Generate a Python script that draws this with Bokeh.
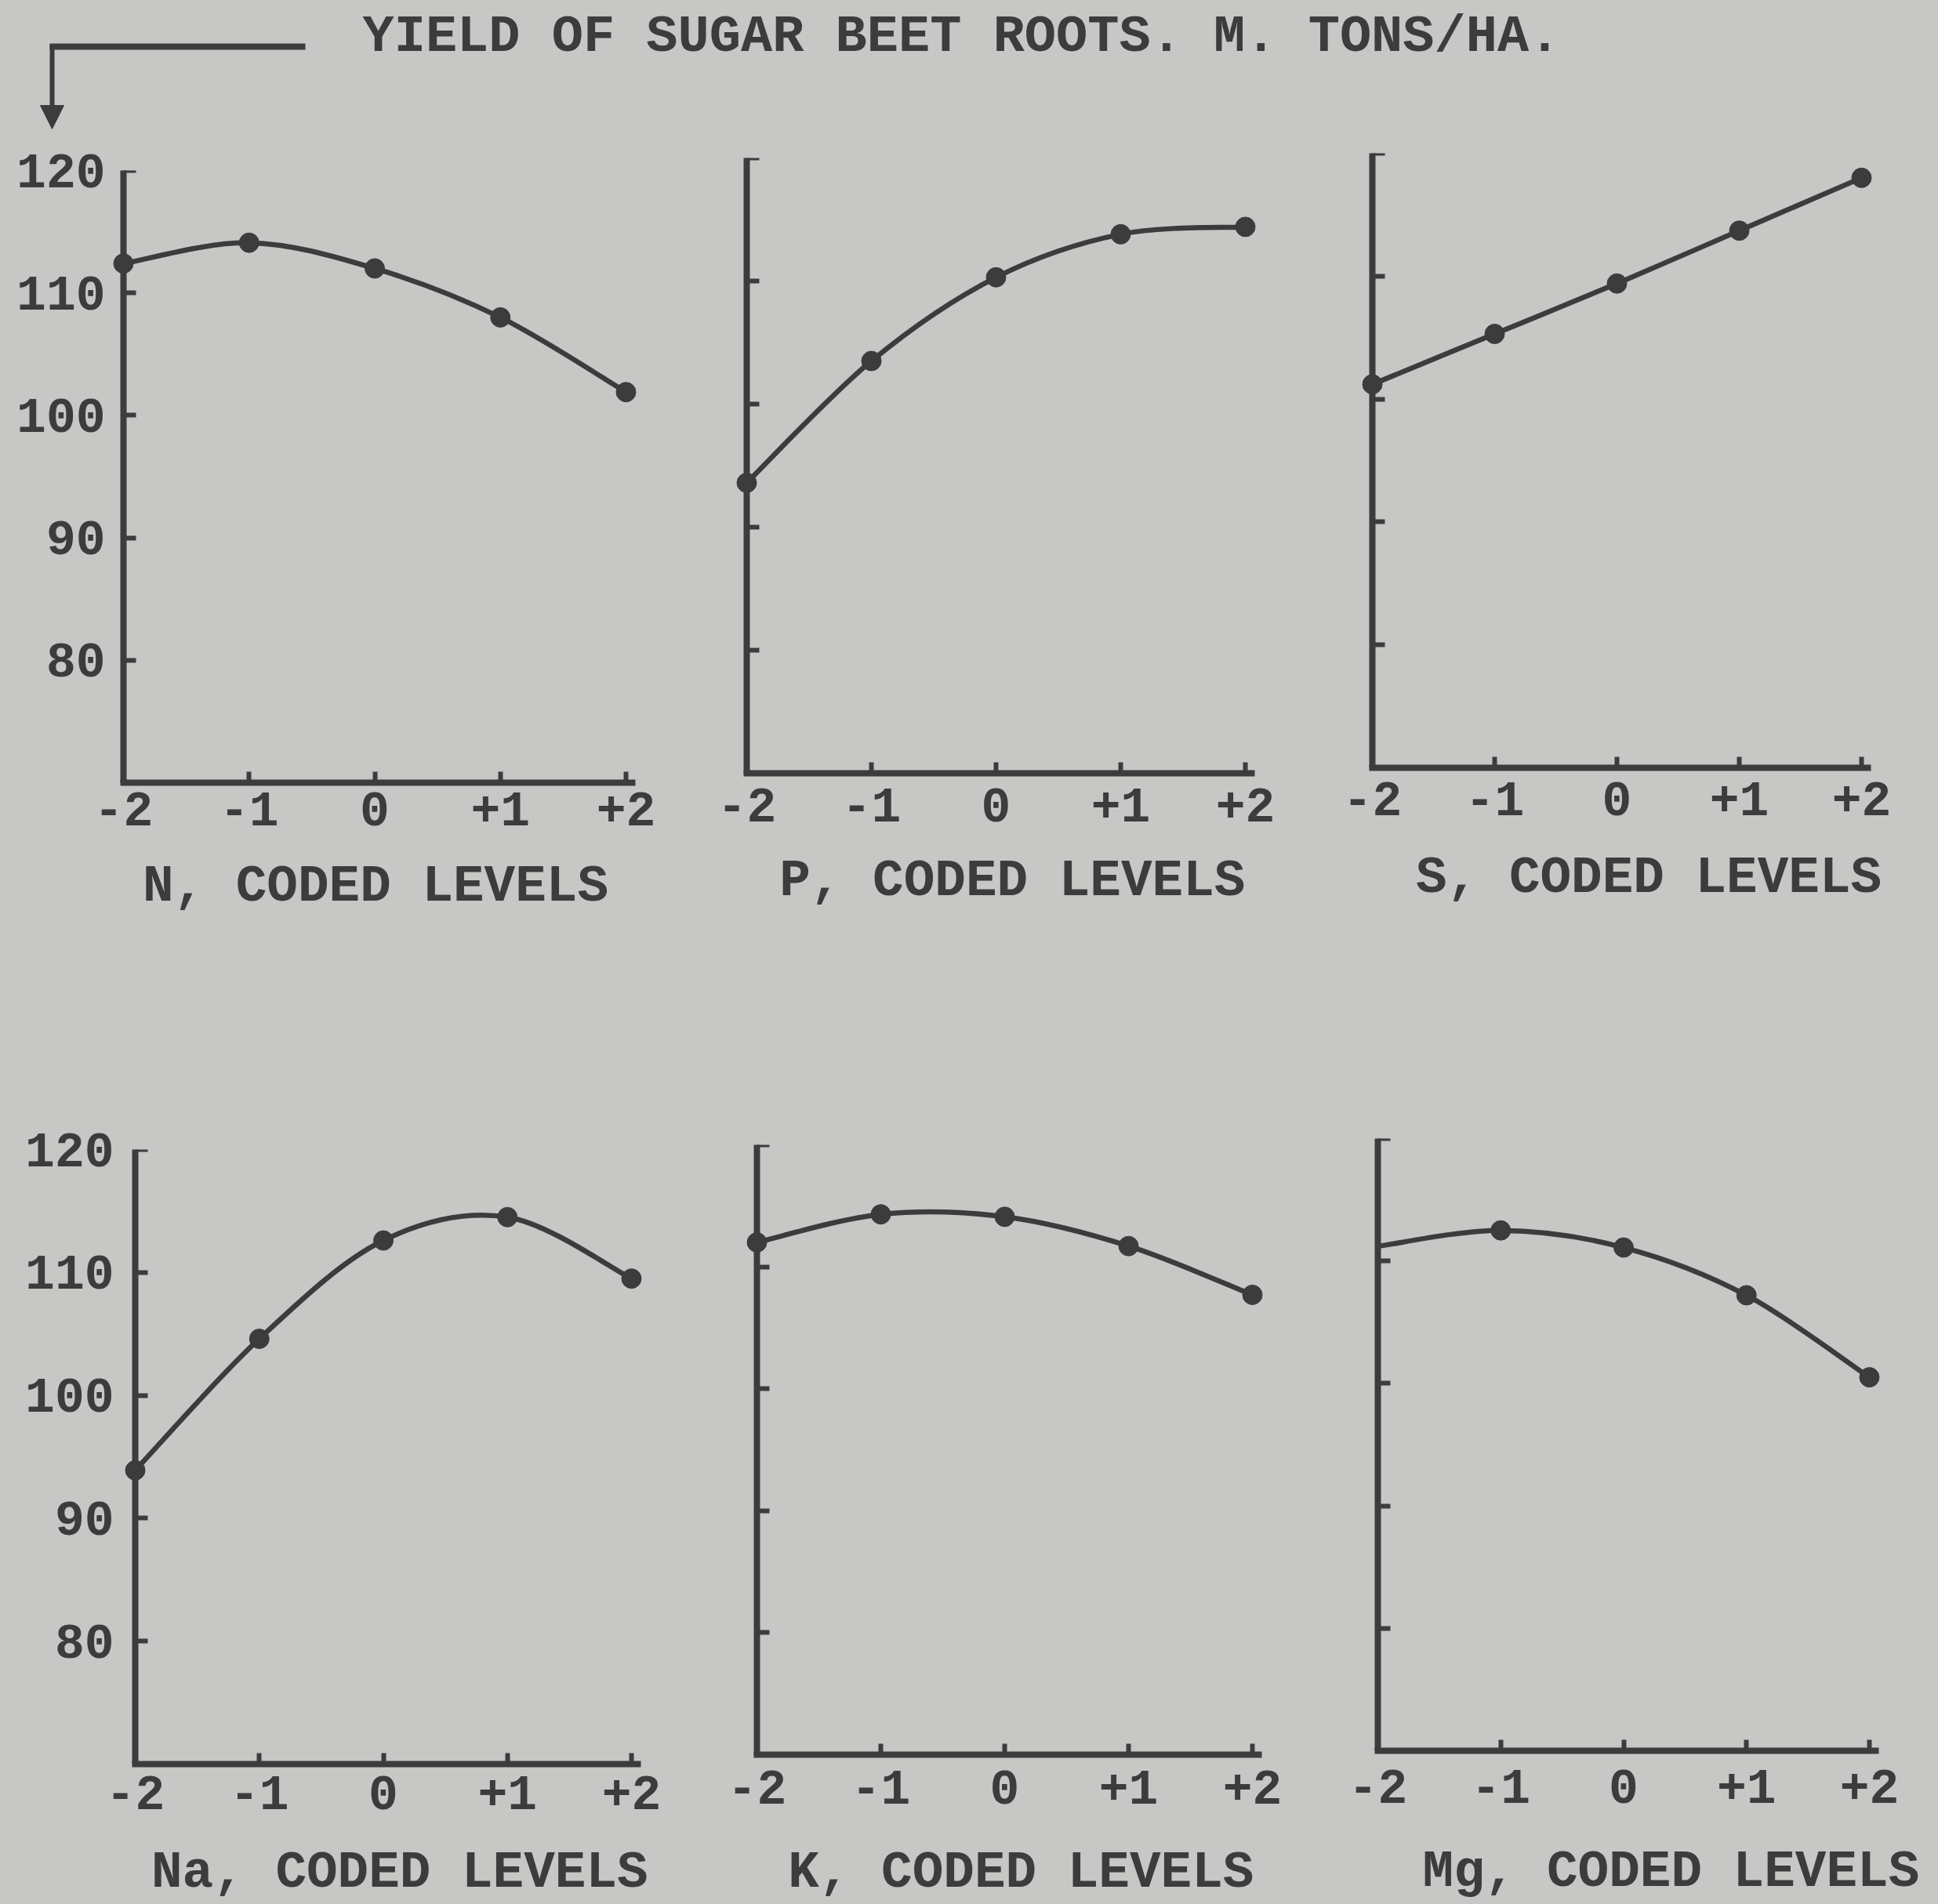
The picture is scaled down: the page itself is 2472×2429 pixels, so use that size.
import numpy as np
from bokeh.plotting import figure
from bokeh.models import Range1d, FixedTicker, Arrow, NormalHead, LinearAxis
from bokeh.layouts import column, row
from bokeh.embed import file_html
from bokeh.resources import INLINE
from bokeh.core.properties import value

# ---------------- data ----------------
TITLE = "YIELD OF SUGAR BEET ROOTS. M. TONS/HA."
LEVELS = [-2, -1, 0, 1, 2]
LEVEL_LABELS = ["-2", "-1", "0", "+1", "+2"]
Y_TICKS = [80, 90, 100, 110, 120]
Y_TICK_LABELS = ["80", "90", "100", "110", "120"]

N_YIELD = [112.4, 114.1, 112.0, 108.0, 101.9]
P_YIELD = [93.6, 103.5, 110.3, 113.8, 114.4]
S_YIELD = [101.2, 105.3, 109.4, 113.7, 118.0]
NA_YIELD = [93.9, 104.6, 112.6, 114.5, 109.5]
K_YIELD = [112.0, 114.3, 114.1, 111.7, 107.7]
MG_YIELD = [111.2, 112.5, 111.1, 107.2, 100.5]

N_LABEL = "N, CODED LEVELS"
P_LABEL = "P, CODED LEVELS"
S_LABEL = "S, CODED LEVELS"
NA_LABEL = "Na, CODED LEVELS"
K_LABEL = "K, CODED LEVELS"
MG_LABEL = "Mg, CODED LEVELS"

# ---------------- style ----------------
BG = "#c7c7c5"
INK = "#3c3c3c"
FONT = "Liberation Mono"
NBSP = "\u00a0"

PAGE_W = 2472
HEADER_H = 180
COLS = [(0, 880), (880, 790), (1670, 802)]
ROWS = [(180, 1120), (1300, 1129)]
PAD_L = 20   # frame room left of the y axis (px)
PAD_R = 22   # frame room right of the +2 level (px)
AXIS_EXT = 8  # x-axis line extension past +2 (px)


def smooth_segments(xs, ys):
    x = np.asarray(xs, float)
    y = np.asarray(ys, float)
    n = len(x)
    xp = np.concatenate([[x[0]], x, [x[-1]]])
    yp = np.concatenate([[y[0]], y, [y[-1]]])
    return dict(
        x0=x[:-1], y0=y[:-1], x1=x[1:], y1=y[1:],
        cx0=x[:-1] + (xp[2:n + 1] - xp[0:n - 1]) / 6.0,
        cy0=y[:-1] + (yp[2:n + 1] - yp[0:n - 1]) / 6.0,
        cx1=x[1:] - (xp[3:n + 2] - xp[1:n]) / 6.0,
        cy1=y[1:] - (yp[3:n + 2] - yp[1:n]) / 6.0,
    )


def style_labels(ax, size="63px"):
    ax.major_label_text_font = FONT
    ax.major_label_text_font_style = "bold"
    ax.major_label_text_font_size = size
    ax.major_label_text_color = INK


def panel(yvals, label, col, rw, geo, show_ylab, ylab_std, xlab_std, lab_std, pad, mark_first=True):
    cx, cw = COLS[col]
    ry, rh = ROWS[rw]
    x_m2, x_p2, top, bottom = geo
    u = (x_p2 - x_m2) / 4.0
    left = x_m2 - PAD_L
    right = x_p2 + PAD_R
    p = figure(width=cw, height=rh,
               x_range=Range1d(-2 - PAD_L / u, 2 + PAD_R / u), y_range=Range1d(70, 120),
               min_border_left=left - cx, min_border_right=cx + cw - right,
               min_border_top=top - ry, min_border_bottom=ry + rh - bottom,
               output_backend="svg", toolbar_location=None)
    p.background_fill_alpha = 0
    p.border_fill_color = BG
    p.outline_line_color = None
    p.grid.visible = False

    seg = smooth_segments(LEVELS, yvals)
    p.bezier(x0=seg["x0"], y0=seg["y0"], x1=seg["x1"], y1=seg["y1"],
             cx0=seg["cx0"], cy0=seg["cy0"], cx1=seg["cx1"], cy1=seg["cy1"],
             line_color=INK, line_width=6.5)
    start = 0 if mark_first else 1
    p.scatter(LEVELS[start:], yvals[start:], marker="circle", size=25,
              fill_color=INK, line_color=INK)

    for ax in (p.xaxis[0], p.yaxis[0]):
        ax.axis_line_color = INK
        ax.axis_line_width = 8
        ax.axis_line_cap = "square"
        ax.major_tick_line_color = INK
        ax.major_tick_line_width = 6
        ax.major_tick_out = 0
        ax.minor_tick_line_color = None
        style_labels(ax)

    xa = p.xaxis[0]
    xa.ticker = FixedTicker(ticks=LEVELS)
    xa.bounds = (-2, 2 + AXIS_EXT / u)
    xa.major_label_overrides = {v: s for v, s in zip(LEVELS, LEVEL_LABELS)}
    xa.major_tick_in = 14
    xa.major_label_standoff = xlab_std
    xa.axis_label = NBSP * pad + label
    xa.axis_label_text_font = FONT
    xa.axis_label_text_font_style = "bold"
    xa.axis_label_text_font_size = "66px"
    xa.axis_label_text_color = INK
    xa.axis_label_standoff = lab_std

    # the drawn y axis sits at level -2 so the -2 markers are not cut
    ya = p.yaxis[0]
    ya.fixed_location = -2
    ya.ticker = FixedTicker(ticks=Y_TICKS)
    ya.major_tick_in = 16
    ya.major_label_overrides = {v: "" for v in Y_TICKS}
    ya.major_label_standoff = 0

    if show_ylab:
        lab_ax = LinearAxis(ticker=FixedTicker(ticks=Y_TICKS),
                            major_label_overrides={v: s for v, s in zip(Y_TICKS, Y_TICK_LABELS)},
                            axis_line_color=None, major_tick_line_color=None,
                            minor_tick_line_color=None, major_tick_in=0, major_tick_out=0,
                            major_label_standoff=ylab_std)
        style_labels(lab_ax)
        p.add_layout(lab_ax, "left")
    return p


# header with title and arrow
header = figure(width=PAGE_W, height=HEADER_H,
                x_range=Range1d(0, PAGE_W), y_range=Range1d(HEADER_H, 0),
                x_axis_location=None, y_axis_location=None,
                min_border=0, output_backend="svg", toolbar_location=None)
header.background_fill_alpha = 0
header.border_fill_color = BG
header.outline_line_color = None
header.grid.visible = False
header.text(x=[462], y=[46], text=[TITLE], text_font=value(FONT),
            text_font_style="bold", text_font_size="67px", text_color=INK,
            text_align="left", text_baseline="middle")
header.line(x=[63, 389], y=[59, 59], line_color=INK, line_width=8)
header.add_layout(Arrow(end=NormalHead(size=30, fill_color=INK, line_color=INK),
                        x_start=66, y_start=56, x_end=66, y_end=164,
                        line_color=INK, line_width=6))

fN = panel(N_YIELD, N_LABEL, 0, 0, (157, 798, 217, 998), True, 3, 12, 38, 0)
fP = panel(P_YIELD, P_LABEL, 1, 0, (952, 1588, 201, 986), False, 0, 19, 36, 1)
fS = panel(S_YIELD, S_LABEL, 2, 0, (1750, 2374, 195, 979), False, 0, 18, 40, 2)
fNa = panel(NA_YIELD, NA_LABEL, 0, 1, (172, 805, 1466, 2253), True, 7, 15, 41, 1)
fK = panel(K_YIELD, K_LABEL, 1, 1, (965, 1597, 1460, 2243), False, 0, 20, 48, 1)
fMg = panel(MG_YIELD, MG_LABEL, 2, 1, (1757, 2384, 1452, 2233), False, 0, 24, 48, 3,
            mark_first=False)

st = {"background-color": BG}
row1 = row(column(fN, styles=st), column(fP, styles=st), column(fS, styles=st), styles=st)
row2 = row(column(fNa, styles=st), column(fK, styles=st), column(fMg, styles=st), styles=st)
layout = column(header, row1, row2, styles=st)
open("out.html", "w").write(file_html(layout, INLINE))
